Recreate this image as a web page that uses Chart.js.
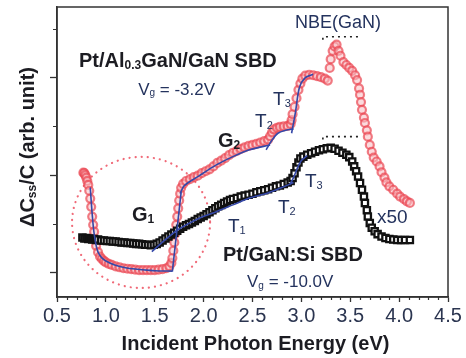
<!DOCTYPE html>
<html>
<head>
<meta charset="utf-8">
<script src="https://cdn.jsdelivr.net/npm/chart.js@4.4.1/dist/chart.umd.min.js"></script>
<style>
  html, body { margin: 0; padding: 0; background: #fff; }
  canvas { display: block; }
</style>
</head>
<body>
<canvas id="cv" width="466" height="358"></canvas>
<script>
const FONT = '"Liberation Sans", Arial, Helvetica, sans-serif';

// Pt/Al0.3GaN/GaN SBD, Vg = -3.2V  (red circles)
const redPts = [
  [0.77,2.05],[0.78,2.04],[0.79,2.00],[0.80,1.95],[0.81,1.88],[0.82,1.80],[0.83,1.68],[0.84,1.52],
  [0.85,1.35],[0.86,1.15],[0.87,0.98],[0.88,0.84],[0.89,0.68],[0.90,0.55],[0.92,0.42],[0.94,0.33],
  [0.96,0.28],[0.98,0.24],[1.00,0.21],[1.03,0.18],[1.06,0.16],[1.10,0.13],[1.14,0.11],[1.18,0.09],
  [1.22,0.08],[1.26,0.07],[1.30,0.06],[1.34,0.05],[1.38,0.05],[1.42,0.05],[1.46,0.05],[1.50,0.05],
  [1.54,0.06],[1.58,0.07],[1.62,0.09],[1.65,0.13],[1.67,0.20],[1.68,0.30],[1.69,0.45],[1.70,0.62],
  [1.71,0.80],[1.72,0.98],[1.73,1.15],[1.74,1.32],[1.75,1.48],[1.76,1.62],[1.77,1.74],[1.79,1.82],
  [1.82,1.88],[1.86,1.92],[1.90,1.96],[1.94,1.99],[1.98,2.04],[2.02,2.08],[2.06,2.12],[2.10,2.18],
  [2.14,2.25],[2.18,2.30],[2.22,2.35],[2.26,2.41],[2.30,2.46],[2.34,2.50],[2.38,2.54],[2.42,2.57],
  [2.46,2.60],[2.50,2.62],[2.54,2.64],[2.58,2.67],[2.62,2.70],[2.66,2.73],[2.68,2.80],[2.70,2.88],
  [2.72,2.94],[2.75,2.97],[2.78,2.99],[2.82,3.00],[2.86,3.01],[2.89,3.05],[2.90,3.13],[2.91,3.25],
  [2.93,3.40],[2.95,3.58],[2.97,3.75],[2.99,3.88],[3.01,3.98],[3.04,4.04],[3.08,4.06],[3.12,4.05],
  [3.16,4.03],[3.20,4.01],[3.24,3.98],[3.27,3.94],[3.29,4.20],[3.30,4.38],[3.32,4.55],[3.34,4.64],
  [3.36,4.68],[3.38,4.55],[3.40,4.45],[3.43,4.32],[3.46,4.26],[3.49,4.20],[3.52,4.14],[3.55,4.05],
  [3.57,3.95],[3.59,3.78],[3.60,3.65],[3.61,3.50],[3.62,3.34],[3.64,3.18],[3.65,3.07],[3.67,2.92],
  [3.68,2.79],[3.70,2.62],[3.72,2.48],[3.74,2.36],[3.77,2.28],[3.80,2.18],[3.82,2.06],[3.85,1.95],
  [3.87,1.85],[3.90,1.77],[3.94,1.70],[3.98,1.62],[4.01,1.56],[4.05,1.51],[4.08,1.46],[4.11,1.43]
];

// Pt/GaN:Si SBD, Vg = -10.0V, x50  (black squares)
const blackPts = [
  [0.76,0.72],[0.78,0.70],[0.80,0.71],[0.82,0.69],[0.84,0.70],[0.86,0.68],[0.88,0.69],[0.90,0.67],
  [0.92,0.68],[0.95,0.66],[0.98,0.66],[1.01,0.65],[1.04,0.65],[1.07,0.64],[1.10,0.64],[1.13,0.63],
  [1.16,0.62],[1.19,0.62],[1.22,0.61],[1.25,0.61],[1.28,0.60],[1.31,0.59],[1.34,0.59],[1.37,0.58],
  [1.40,0.57],[1.43,0.57],[1.46,0.56],[1.49,0.57],[1.52,0.59],[1.55,0.62],[1.58,0.66],[1.61,0.70],
  [1.64,0.74],[1.67,0.78],[1.70,0.82],[1.73,0.86],[1.76,0.90],[1.79,0.94],[1.82,0.97],[1.85,1.00],
  [1.88,1.03],[1.91,1.06],[1.94,1.10],[1.97,1.13],[2.00,1.16],[2.03,1.20],[2.06,1.24],[2.09,1.28],
  [2.12,1.32],[2.15,1.36],[2.18,1.39],[2.21,1.43],[2.24,1.46],[2.27,1.49],[2.30,1.51],[2.34,1.53],
  [2.38,1.56],[2.42,1.58],[2.46,1.60],[2.50,1.62],[2.54,1.65],[2.58,1.67],[2.62,1.69],[2.66,1.71],
  [2.70,1.74],[2.74,1.77],[2.78,1.79],[2.82,1.82],[2.86,1.85],[2.89,1.88],[2.91,1.94],[2.93,2.04],
  [2.95,2.16],[2.97,2.26],[2.99,2.34],[3.02,2.38],[3.06,2.42],[3.10,2.45],[3.14,2.48],[3.18,2.51],
  [3.22,2.53],[3.26,2.55],[3.30,2.56],[3.34,2.54],[3.38,2.50],[3.42,2.46],[3.46,2.42],[3.49,2.37],
  [3.52,2.28],[3.54,2.18],[3.56,2.08],[3.58,1.97],[3.60,1.84],[3.62,1.70],[3.64,1.56],[3.65,1.43],
  [3.67,1.28],[3.68,1.15],[3.70,1.02],[3.72,0.92],[3.75,0.85],[3.78,0.79],[3.82,0.74],[3.86,0.71],
  [3.90,0.69],[3.94,0.68],[3.98,0.67],[4.02,0.67],[4.06,0.67],[4.11,0.67]
];

// blue fitted curves
const fitG1 = [[0.84,1.75],[0.86,1.20],[0.88,0.80],[0.92,0.42],[1.00,0.24],[1.20,0.10],[1.50,0.04],[1.68,0.03]];
const fitT1red = [[1.68,0.02],[1.77,1.65]];
const fitG2 = [[1.76,1.62],[1.80,1.78],[1.95,1.98],[2.13,2.21],[2.30,2.38],[2.47,2.52],[2.68,2.62]];
const fitT2red = [[2.64,2.52],[2.70,2.72],[2.76,2.86],[2.84,2.92],[2.92,2.95]];
const fitT3red = [[2.90,2.86],[2.94,3.30],[2.98,3.80],[3.04,4.00],[3.12,4.07]];
const fitBlack = [[1.47,0.43],[1.60,0.66],[1.73,0.87],[1.96,1.12],[2.13,1.25],[2.30,1.39],[2.47,1.53],[2.65,1.63],[2.82,1.76],[2.92,1.85]];
const fitT3black = [[2.88,1.80],[2.92,1.95],[2.96,2.15],[3.00,2.30],[3.06,2.40]];

// NBE(GaN) dotted brackets
const bracketTop = [[3.22,4.78],[3.22,4.84],[3.58,4.84],[3.58,4.78]];
const bracketLow = [[3.22,2.73],[3.22,2.79],[3.58,2.79],[3.58,2.73]];

// dotted circle round the G1 region: centre and half-widths in data units
const circleG1 = { x: 1.36, y: 1.03, rx: 0.706, ry: 1.345 };

const xTicks = [0.5, 1.0, 1.5, 2.0, 2.5, 3.0, 3.5, 4.0, 4.5];

// text labels: [parts, x, y, size, weight, colour]
const labels = [
  [[['Pt/Al'],['0.3',1],['GaN/GaN SBD']], 0.725, 4.22, 20, 'bold', '#1c1c22'],
  [[['V'],['g',1],[' = -3.2V']], 1.33, 3.65, 17, 'normal', '#24335e'],
  [[['NBE(GaN)']], 2.935, 5.02, 18, 'normal', '#24335e'],
  [[['G'],['2',1]], 2.147, 2.58, 20, 'bold', '#1c1c22'],
  [[['T'],['2',1]], 2.526, 2.99, 19, 'normal', '#24335e'],
  [[['T'],['3',1]], 2.71, 3.44, 19, 'normal', '#24335e'],
  [[['G'],['1',1]], 1.267, 1.06, 20, 'bold', '#1c1c22'],
  [[['T'],['1',1]], 2.249, 0.83, 19, 'normal', '#24335e'],
  [[['T'],['2',1]], 2.761, 1.22, 19, 'normal', '#24335e'],
  [[['T'],['3',1]], 3.037, 1.76, 19, 'normal', '#24335e'],
  [[['x50']], 3.774, 1.02, 19, 'normal', '#24335e'],
  [[['Pt/GaN:Si SBD']], 2.198, 0.24, 20, 'bold', '#1c1c22'],
  [[['V'],['g',1],[' = -10.0V']], 2.444, -0.30, 17, 'normal', '#24335e']
];

const toXY = a => a.map(p => ({ x: p[0], y: p[1] }));

function fitSet(arr) {
  return {
    data: toXY(arr), showLine: true, borderColor: '#3548a8', borderWidth: 1.6,
    pointRadius: 0, fill: false, tension: 0.3
  };
}
function bracketSet(arr) {
  return {
    data: toXY(arr), showLine: true, borderColor: '#222', borderWidth: 1.6,
    borderDash: [2, 4], pointRadius: 0, fill: false, tension: 0
  };
}

function drawRich(ctx, parts, x, y, size, weight, color) {
  let cx = x;
  ctx.fillStyle = color;
  ctx.textBaseline = 'alphabetic';
  ctx.textAlign = 'left';
  parts.forEach(p => {
    const sub = p[1] === 1;
    const s = sub ? Math.round(size * 0.6) : size;
    ctx.font = `${weight} ${s}px ${FONT}`;
    ctx.fillText(p[0], cx, y + (sub ? size * 0.1 : 0));
    cx += ctx.measureText(p[0]).width;
  });
  return cx - x;
}
function richWidth(ctx, parts, size, weight) {
  let w = 0;
  parts.forEach(p => {
    const s = p[1] === 1 ? Math.round(size * 0.6) : size;
    ctx.font = `${weight} ${s}px ${FONT}`;
    w += ctx.measureText(p[0]).width;
  });
  return w;
}

const decor = {
  id: 'decor',
  beforeDatasetsDraw(chart) {
    const { ctx, scales: { x, y } } = chart;
    // dotted circle
    const cx = x.getPixelForValue(circleG1.x), cy = y.getPixelForValue(circleG1.y);
    const rx = x.getPixelForValue(circleG1.x + circleG1.rx) - cx;
    const ry = cy - y.getPixelForValue(circleG1.y + circleG1.ry);
    ctx.save();
    ctx.strokeStyle = '#f06a78';
    ctx.lineWidth = 2.2;
    ctx.lineCap = 'round';
    ctx.setLineDash([0.1, 6]);
    ctx.beginPath();
    ctx.ellipse(cx, cy, rx, ry, 0, 0, Math.PI * 2);
    ctx.stroke();
    ctx.restore();
  },
  afterDatasetsDraw(chart) {
    const { ctx, chartArea: a, scales: { x, y } } = chart;
    ctx.save();
    // frame
    ctx.strokeStyle = '#333';
    ctx.lineWidth = 1.5;
    ctx.strokeRect(a.left, a.top, a.right - a.left, a.bottom - a.top);
    // minor x ticks
    ctx.lineWidth = 1.2;
    ctx.beginPath();
    for (let i = 0; i <= 40; i++) {
      if (i % 5 === 0) continue;
      const px = Math.round(x.getPixelForValue(0.5 + i * 0.1)) + 0.5;
      ctx.moveTo(px, a.bottom);
      ctx.lineTo(px, a.bottom + 3);
    }
    // short y ticks
    [1, 3, 5].forEach(v => {
      const py = Math.round(y.getPixelForValue(v)) + 0.5;
      ctx.moveTo(a.left, py);
      ctx.lineTo(a.left - 4, py);
    });
    ctx.stroke();

    // labels
    labels.forEach(l => {
      drawRich(ctx, l[0], x.getPixelForValue(l[1]), y.getPixelForValue(l[2]), l[3], l[4], l[5]);
    });

    // axis titles
    const xt = [['Incident Photon Energy (eV)']];
    const wx = richWidth(ctx, xt, 20, 'bold');
    drawRich(ctx, xt, (a.left + a.right) / 2 + 3 - wx / 2, 350, 20, 'bold', '#1c1c22');

    const yt = [['\u0394C'], ['ss', 1], ['/C (arb. unit)']];
    const wy = richWidth(ctx, yt, 20, 'bold');
    ctx.translate(34, 147);
    ctx.rotate(-Math.PI / 2);
    drawRich(ctx, yt, -wy / 2, 0, 20, 'bold', '#1c1c22');
    ctx.restore();
  }
};

new Chart(document.getElementById('cv'), {
  type: 'scatter',
  data: {
    datasets: [
      fitSet(fitG1), fitSet(fitT1red), fitSet(fitG2), fitSet(fitT2red), fitSet(fitT3red),
      fitSet(fitBlack), fitSet(fitT3black),
      bracketSet(bracketTop), bracketSet(bracketLow),
      {
        data: toXY(blackPts), pointStyle: 'rect', pointRadius: 4.4, borderWidth: 2.3,
        borderColor: '#111', backgroundColor: '#fff', showLine: false
      },
      {
        data: toXY(redPts), pointStyle: 'circle', pointRadius: 4, borderWidth: 2.2,
        borderColor: 'rgba(234,66,78,0.68)', backgroundColor: 'rgba(248,190,195,0.55)', showLine: false
      }
    ]
  },
  options: {
    responsive: false,
    animation: false,
    layout: { padding: { left: 0, right: 18, top: 7, bottom: 0 } },
    plugins: { legend: { display: false }, tooltip: { enabled: false } },
    scales: {
      x: {
        type: 'linear', min: 0.5, max: 4.5,
        afterBuildTicks: s => { s.ticks = xTicks.map(v => ({ value: v })); },
        ticks: {
          callback: v => v.toFixed(1), font: { family: FONT, size: 20 }, color: '#2b3550',
          padding: 2, maxRotation: 0, autoSkip: false
        },
        grid: { drawOnChartArea: false, tickLength: 5, tickColor: '#333', tickWidth: 1.3 },
        border: { color: '#333', width: 1.5 },
        afterFit: s => { s.height = 61; }
      },
      y: {
        min: -0.5, max: 5.45,
        ticks: { display: false, stepSize: 1 },
        grid: {
          drawOnChartArea: false, tickLength: 7, tickWidth: 1.3,
          tickColor: c => (c.tick && c.tick.value % 2 === 0) ? '#333' : 'rgba(0,0,0,0)'
        },
        border: { color: '#333', width: 1.5 },
        afterFit: s => { s.width = 57; }
      }
    }
  },
  plugins: [decor]
});
</script>
</body>
</html>
